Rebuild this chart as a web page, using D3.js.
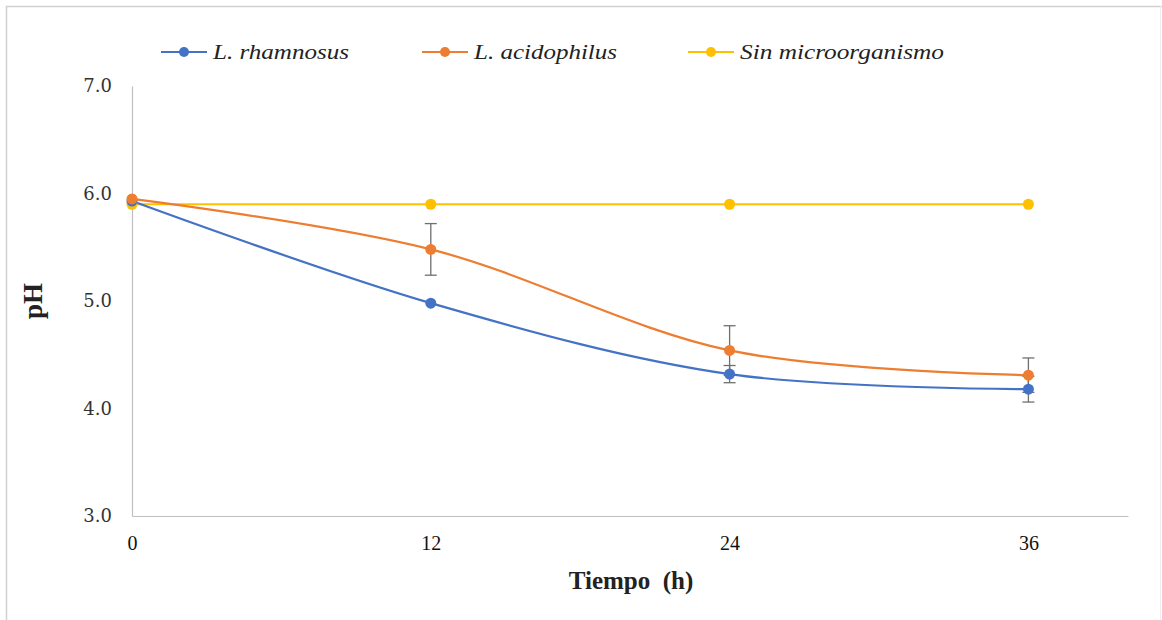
<!DOCTYPE html>
<html>
<head>
<meta charset="utf-8">
<script src="https://cdn.jsdelivr.net/npm/d3@7"></script>
<style>
  body { margin: 0; background: #fff; }
</style>
</head>
<body>
<div id="chart"></div>
<script>
// hours and pH readings
const hours = [0, 12, 24, 36];
const rhamnosus = [5.93, 4.98, 4.32, 4.18];
const rhamnosusErr = [0, 0, 0.08, 0.12];
const acidophilus = [5.95, 5.48, 4.54, 4.31];
const acidophilusErr = [0, 0.24, 0.23, 0.16];
const control = [5.9, 5.9, 5.9, 5.9];
const controlErr = [0, 0, 0, 0];
const yTicks = [3, 4, 5, 6, 7];
const seriesNames = ["L. rhamnosus", "L. acidophilus", "Sin microorganismo"];
const seriesColors = ["#4472c4", "#ed7d31", "#ffc000"];

const width = 1162;
const height = 620;
const margin = { top: 86, right: 34, bottom: 104, left: 132 };
const serif = "'Liberation Serif', 'Times New Roman', serif";

const svg = d3.select("#chart")
  .append("svg")
  .attr("width", width)
  .attr("height", height);

// outer frame of the chart area
svg.append("line").attr("x1", 6).attr("x2", width).attr("y1", 6.5).attr("y2", 6.5)
  .attr("stroke", "#d0d0d0").attr("stroke-width", 1.5);
svg.append("line").attr("x1", 6.5).attr("x2", 6.5).attr("y1", 6).attr("y2", height)
  .attr("stroke", "#d0d0d0").attr("stroke-width", 1.5);
svg.append("line").attr("x1", 1160.5).attr("x2", 1160.5).attr("y1", 6).attr("y2", height)
  .attr("stroke", "#eeeeee").attr("stroke-width", 1);

const x = d3.scaleLinear()
  .domain([0, 40])
  .range([margin.left, width - margin.right]);

const y = d3.scaleLinear()
  .domain([3, 7])
  .range([height - margin.bottom, margin.top]);

// axes
svg.append("g")
  .attr("transform", `translate(0,${y(3)})`)
  .call(d3.axisBottom(x).tickValues(hours).tickSize(0).tickPadding(20))
  .call(g => g.select(".domain").attr("stroke", "#bfbfbf").attr("stroke-width", 1.2))
  .call(g => g.selectAll("text").style("font-size", "20px").style("font-family", serif)
    .attr("fill", "#111"));

svg.append("g")
  .attr("transform", `translate(${x(0)},0)`)
  .call(d3.axisLeft(y).tickValues(yTicks).tickFormat(d3.format(".1f")).tickSize(0).tickPadding(20))
  .call(g => g.select(".domain").attr("stroke", "#bfbfbf").attr("stroke-width", 1.2))
  .call(g => g.selectAll("text").style("font-size", "18px").style("font-family", "'DejaVu Serif', serif")
    .attr("fill", "#333"));

// axis titles
svg.append("text")
  .attr("x", 631)
  .attr("y", 589)
  .attr("text-anchor", "middle")
  .style("font-family", serif)
  .style("font-size", "25px")
  .style("font-weight", "bold")
  .attr("fill", "#222")
  .text("Tiempo\u00a0\u00a0(h)");

svg.append("text")
  .attr("transform", `translate(42,${y(5)}) rotate(-90)`)
  .attr("text-anchor", "middle")
  .style("font-family", serif)
  .style("font-size", "27px")
  .style("font-weight", "bold")
  .attr("fill", "#222")
  .text("pH");

const series = [
  { values: rhamnosus, err: rhamnosusErr },
  { values: acidophilus, err: acidophilusErr },
  { values: control, err: controlErr }
];

const line = d3.line()
  .x((d, i) => x(hours[i]))
  .y(d => y(d))
  .curve(d3.curveCardinal.tension(0));

// draw yellow first, then blue, then orange on top
const order = [2, 0, 1];
order.forEach(si => {
  const s = series[si];
  svg.append("path")
    .datum(s.values)
    .attr("fill", "none")
    .attr("stroke", seriesColors[si])
    .attr("stroke-width", 2.2)
    .attr("d", line);
});

// error bars
order.forEach(si => {
  const s = series[si];
  s.values.forEach((v, i) => {
    if (!s.err[i]) return;
    const cx = x(hours[i]);
    const g = svg.append("g").attr("stroke", "#6f6f6f").attr("stroke-width", 1.3);
    g.append("line").attr("x1", cx).attr("x2", cx).attr("y1", y(v + s.err[i])).attr("y2", y(v - s.err[i]));
    g.append("line").attr("x1", cx - 6).attr("x2", cx + 6).attr("y1", y(v + s.err[i])).attr("y2", y(v + s.err[i]));
    g.append("line").attr("x1", cx - 6).attr("x2", cx + 6).attr("y1", y(v - s.err[i])).attr("y2", y(v - s.err[i]));
  });
});

// markers
order.forEach(si => {
  const s = series[si];
  svg.selectAll(null)
    .data(s.values)
    .enter()
    .append("circle")
    .attr("cx", (d, i) => x(hours[i]))
    .attr("cy", d => y(d))
    .attr("r", 5.5)
    .attr("fill", seriesColors[si]);
});

// legend
const legendX = [161, 422, 688];
const legendTextLen = [136, 143, 204];
seriesNames.forEach((name, i) => {
  const g = svg.append("g").attr("transform", `translate(${legendX[i]},52)`);
  g.append("line").attr("x1", 0).attr("x2", 46).attr("y1", 0).attr("y2", 0)
    .attr("stroke", seriesColors[i]).attr("stroke-width", 2.2);
  g.append("circle").attr("cx", 23).attr("cy", 0).attr("r", 5).attr("fill", seriesColors[i]);
  g.append("text")
    .attr("x", 52)
    .attr("y", 7)
    .attr("textLength", legendTextLen[i])
    .attr("lengthAdjust", "spacingAndGlyphs")
    .style("font-family", serif)
    .style("font-size", "20px")
    .style("font-style", "italic")
    .attr("fill", "#222")
    .text(name);
});
</script>
</body>
</html>
